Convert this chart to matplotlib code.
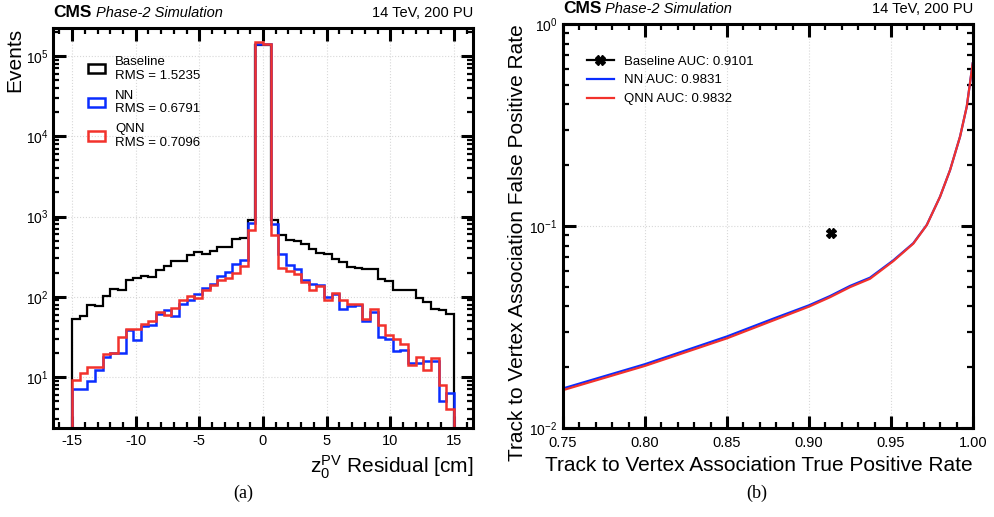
import numpy as np
import matplotlib
matplotlib.use("Agg")
import matplotlib.pyplot as plt
from matplotlib.ticker import MultipleLocator, LogLocator, NullFormatter, FormatStrFormatter
from matplotlib.lines import Line2D
from matplotlib.patches import Rectangle

plt.rcParams['font.family'] = ['Liberation Sans', 'DejaVu Sans']
plt.rcParams['mathtext.fontset'] = 'custom'
plt.rcParams['mathtext.rm'] = 'Liberation Sans'
plt.rcParams['mathtext.it'] = 'Liberation Sans:italic'
plt.rcParams['mathtext.bf'] = 'Liberation Sans:bold'
plt.rcParams['axes.unicode_minus'] = False

# ---------------- data ----------------
bin_edges = np.linspace(-15, 15, 51)

baseline_counts = [
    53.6, 57.3, 78.4, 76.2, 101, 125, 122.7, 163, 171, 183,
    176, 213, 244, 281, 276, 334, 360, 337, 371, 416,
    416, 518, 543, 910, 135000,
    135000, 910, 581, 513, 489, 457, 396, 354, 344, 298,
    271, 235, 228, 224, 224, 168, 156, 123, 122, 120,
    97.7, 86.3, 71.3, 68, 60.6]

nn_counts = [
    7.0, 7.0, 9.0, 12.2, 17.9, 20.1, 20.1, 38.6, 28.8, 43,
    44, 61.8, 69.3, 57.3, 82.2, 92.2, 109, 130, 143, 180,
    203, 258, 290, 827, 141000,
    141000, 811, 344, 246, 224, 163, 143, 139, 99.5, 109,
    71.3, 76.2, 78.4, 50, 64.8, 31.7, 29.4, 21.2, 22, 15.1,
    15.1, 16, 16, 5.08, 6.27]

qnn_counts = [
    9.2, 11.1, 13.4, 13.4, 19.3, 20.1, 31.7, 40.2, 39.5, 46.4,
    50, 64.8, 58.9, 73.3, 90.5, 101, 97.3, 122.7, 139, 160,
    171, 198, 239, 670, 151000,
    141000, 592, 230, 209, 194, 153, 120, 135, 92, 112,
    90.5, 82.2, 81, 53.6, 71.3, 44.3, 33.2, 29.4, 25.7, 14.1,
    17.9, 12.2, 17.1, 7.96, 3.97]

hist_labels = ["Baseline\nRMS = 1.5235", "NN\nRMS = 0.6791", "QNN\nRMS = 0.7096"]

tpr = [0.75, 0.80, 0.85, 0.8787, 0.90, 0.9128, 0.925, 0.9372, 0.9514,
       0.9636, 0.9718, 0.9799, 0.986, 0.9921, 0.9962, 0.9998]
fpr_qnn = [0.0154, 0.0203, 0.0278, 0.0342, 0.0399, 0.0444, 0.0498, 0.0548, 0.0670,
           0.0818, 0.1010, 0.1396, 0.189, 0.277, 0.390, 0.638]
fpr_nn = [0.0157, 0.0207, 0.0284, 0.0349, 0.0405, 0.0450, 0.0505, 0.0555, 0.0676,
          0.0822, 0.1012, 0.1396, 0.189, 0.277, 0.390, 0.638]
baseline_point = (0.9132, 0.092)
roc_labels = ["Baseline AUC: 0.9101", "NN AUC: 0.9831", "QNN AUC: 0.9832"]

BLUE = '#0a2dff'
RED = '#f2322c'

# ---------------- figure ----------------
fig = plt.figure(figsize=(9.95, 5.17), dpi=100)
W, H = 995, 517
def ax_rect(x0, x1, y0, y1):
    return [x0 / W, 1 - y1 / H, (x1 - x0) / W, (y1 - y0) / H]

axL = fig.add_axes(ax_rect(53, 473, 28, 428))
axR = fig.add_axes(ax_rect(563, 973, 24, 428))

def style_axes(ax):
    for s in ax.spines.values():
        s.set_linewidth(2.2)
    ax.tick_params(which='both', direction='in', top=True, right=True, labelsize=10.5, pad=4)
    ax.tick_params(axis='y', which='both', labelsize=10)
    ax.tick_params(which='major', length=9, width=2.2)
    ax.tick_params(which='minor', length=4.5, width=1.6)
    ax.grid(True, which='major', color='#d8d8d8', linestyle=':', linewidth=0.8)
    ax.set_axisbelow(True)

# ---- left panel ----
colors_h = ['black', BLUE, RED]
lws_h = [1.6, 1.8, 1.8]
for counts, c, lw, lab in zip([baseline_counts, nn_counts, qnn_counts], colors_h, lws_h, hist_labels):
    axL.stairs(counts, bin_edges, color=c, linewidth=lw, label=lab, baseline=1e-3)
axL.set_yscale('log')
axL.set_xlim(-16.5, 16.5)
axL.set_ylim(2.32, 2.23e5)
axL.xaxis.set_major_locator(MultipleLocator(5))
axL.xaxis.set_minor_locator(MultipleLocator(1))
axL.yaxis.set_major_locator(LogLocator(base=10, numticks=10))
axL.yaxis.set_minor_locator(LogLocator(base=10, subs=np.arange(2, 10), numticks=20))
axL.yaxis.set_minor_formatter(NullFormatter())
style_axes(axL)
axL.tick_params(axis='y', which='both', pad=3)
axL.set_xlabel(r"$\mathrm{z}_0^{\mathrm{PV}}$ Residual [cm]", fontsize=15, loc='right')
axL.set_ylabel("Events", fontsize=15, loc='top')
axL.yaxis.set_label_coords(-0.068, 1.0)
hist_handles = [Rectangle((0, 0), 1, 1, facecolor='none', edgecolor=c, linewidth=1.8) for c in colors_h]
axL.legend(hist_handles, hist_labels, loc='upper left', bbox_to_anchor=(0.055, 0.96), frameon=False,
           fontsize=9.5, handlelength=1.3, handleheight=0.7, labelspacing=0.6, handletextpad=0.75)

# ---- right panel ----
axR.plot(tpr, fpr_nn, color=BLUE, linewidth=1.6, label=roc_labels[1])
axR.plot(tpr, fpr_qnn, color=RED, linewidth=1.6, label=roc_labels[2])
axR.plot([baseline_point[0]], [baseline_point[1]], marker='X', color='black', markersize=7, linestyle='none')
axR.set_yscale('log')
axR.set_xlim(0.75, 1.0)
axR.set_ylim(1e-2, 1.0)
axR.xaxis.set_major_locator(MultipleLocator(0.05))
axR.xaxis.set_minor_locator(MultipleLocator(0.01))
axR.xaxis.set_major_formatter(FormatStrFormatter('%.2f'))
axR.yaxis.set_minor_locator(LogLocator(base=10, subs=np.arange(2, 10), numticks=20))
axR.yaxis.set_minor_formatter(NullFormatter())
style_axes(axR)
axR.tick_params(axis='x', which='both', pad=6)
axR.tick_params(axis='y', which='both', pad=4)
axR.set_xlabel("Track to Vertex Association True Positive Rate", fontsize=15, loc='right')
axR.set_ylabel("Track to Vertex Association False Positive Rate", fontsize=15, loc='top')
axR.yaxis.set_label_coords(-0.088, 1.0)
handles = [Line2D([], [], color='black', marker='X', markersize=7, linewidth=1.6),
           Line2D([], [], color=BLUE, linewidth=1.6),
           Line2D([], [], color=RED, linewidth=1.6)]
axR.legend(handles, roc_labels, loc='upper left', bbox_to_anchor=(0.03, 0.952), frameon=False,
           fontsize=9.5, handlelength=2.0, labelspacing=0.5, handletextpad=0.8)

# ---- CMS labels ----
for ax in (axL, axR):
    ax.text(0.0, 1.02, "CMS", transform=ax.transAxes, fontsize=12.5, fontweight='bold',
            ha='left', va='bottom')
    ax.text(0.102, 1.02, "Phase-2 Simulation", transform=ax.transAxes, fontsize=10.5,
            style='italic', ha='left', va='bottom')
    ax.text(1.0, 1.02, "14 TeV, 200 PU", transform=ax.transAxes, fontsize=10.5,
            ha='right', va='bottom')

fig.text(243 / W, 1 - 493 / H, "(a)", fontsize=13, family='Liberation Serif', ha='center', va='center')
fig.text(757 / W, 1 - 493 / H, "(b)", fontsize=13, family='Liberation Serif', ha='center', va='center')

fig.savefig("out.png", dpi=100)
